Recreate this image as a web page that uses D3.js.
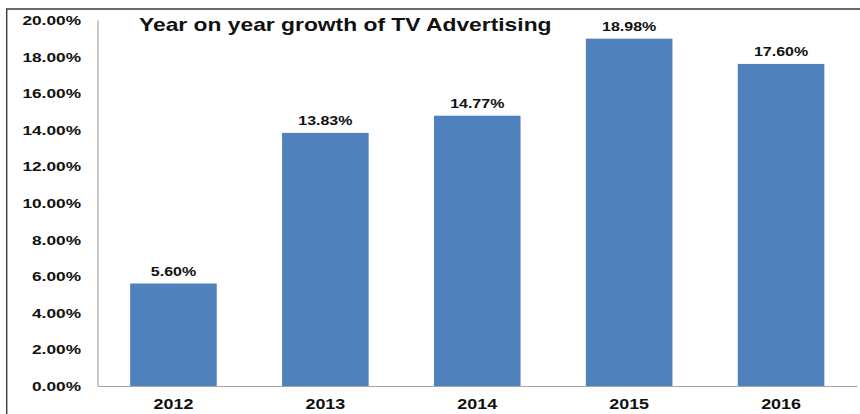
<!DOCTYPE html>
<html>
<head>
<meta charset="utf-8">
<script src="https://cdn.jsdelivr.net/npm/d3@7/dist/d3.min.js"></script>
<style>
  html, body { margin: 0; padding: 0; background: #fff; }
  svg { display: block; }
  text { font-family: "Liberation Sans", Arial, sans-serif; font-weight: bold; fill: #111; }
</style>
</head>
<body>
<svg id="chart" width="860" height="414"></svg>
<script>
// Year-on-year growth of TV advertising (%)
const years = ["2012", "2013", "2014", "2015", "2016"];
const growth = [5.60, 13.83, 14.77, 18.98, 17.60];
const yTicks = [0, 2, 4, 6, 8, 10, 12, 14, 16, 18, 20];
const chartTitle = "Year on year growth of TV Advertising";

const W = 860, H = 414;
const plot = { left: 97.5, right: 857, top: 20, bottom: 386 };
const stretch = 1.28; // wide lettering

const svg = d3.select("#chart");

// outer frame (left and top edges visible)
svg.append("path")
  .attr("d", `M6.7,${H} V9 H${W}`)
  .attr("fill", "none")
  .attr("stroke", "#3a3a3a")
  .attr("stroke-width", 1.4);

const x = d3.scaleBand()
  .domain(years)
  .range([plot.left, plot.right])
  .paddingInner(0.43)
  .paddingOuter(0.215);

const y = d3.scaleLinear()
  .domain([0, 20])
  .range([plot.bottom, plot.top]);

const fmt = d => d.toFixed(2) + "%";

// helper: stretched text placed at (px, py)
function label(g, px, py, txt, size, anchor, sx = stretch) {
  g.append("text")
    .attr("transform", `translate(${px},${py}) scale(${sx},1)`)
    .attr("text-anchor", anchor)
    .attr("font-size", size)
    .text(txt);
}

// bars
svg.append("g").selectAll("rect")
  .data(years)
  .join("rect")
  .attr("x", d => x(d))
  .attr("width", x.bandwidth())
  .attr("y", (d, i) => y(growth[i]))
  .attr("height", (d, i) => y(0) - y(growth[i]))
  .attr("fill", "#4f81bd");

// y axis: line with percentage labels, no tick marks
const yAxis = d3.axisLeft(y).tickValues(yTicks).tickSize(0).tickFormat(fmt);
const yg = svg.append("g").attr("transform", `translate(${plot.left},0)`).call(yAxis);
yg.select(".domain").attr("stroke", "#a6a6a6").attr("stroke-width", 1.2);
yg.selectAll(".tick text").remove();
const yLab = svg.append("g");
yTicks.forEach(t => label(yLab, 81, y(t) + 5, fmt(t), 13.5, "end"));

// x axis baseline and year labels
const xAxis = d3.axisBottom(x).tickSize(0).tickSizeOuter(0);
const xg = svg.append("g").attr("transform", `translate(0,${plot.bottom})`).call(xAxis);
xg.select(".domain").attr("stroke", "#a6a6a6").attr("stroke-width", 1.2);
xg.selectAll(".tick text").remove();
const xLab = svg.append("g");
years.forEach(d => label(xLab, x(d) + x.bandwidth() / 2, 409, d, 14, "middle"));

// value labels above bars
const vLab = svg.append("g");
years.forEach((d, i) => label(vLab, x(d) + x.bandwidth() / 2, y(growth[i]) - 7.5, fmt(growth[i]), 12.5, "middle"));

// title
label(svg.append("g"), 139, 31, chartTitle, 17.5, "start", 1.305);
</script>
</body>
</html>
